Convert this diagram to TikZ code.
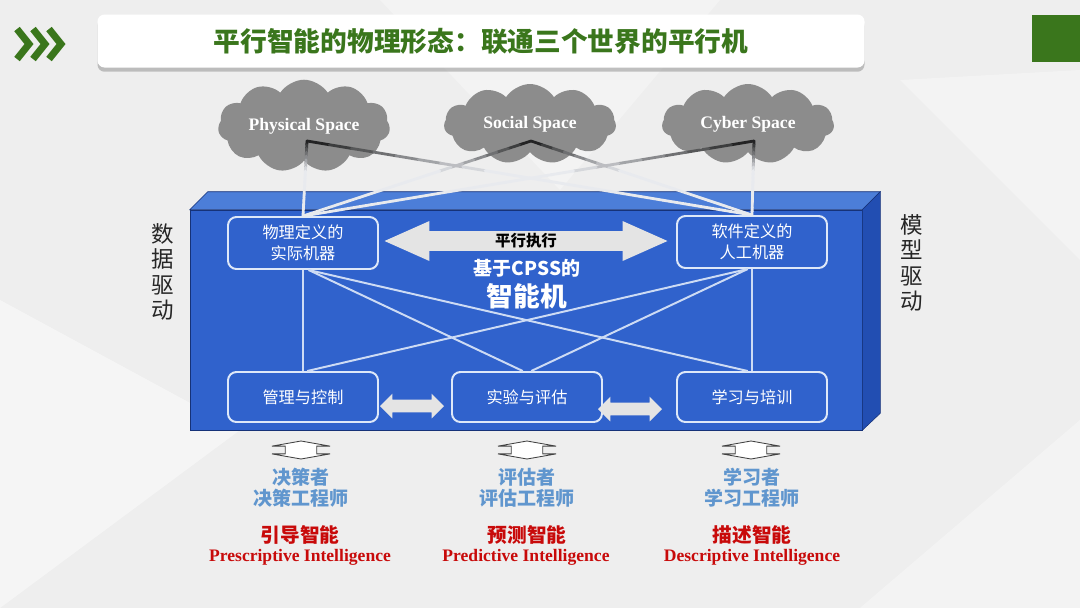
\documentclass[tikz,border=0pt]{standalone}
\usepackage{fontspec}
\setmainfont{Liberation Serif}
\newfontfamily\cjk{Noto Sans CJK SC}
\usepackage{tikz}
\usetikzlibrary{positioning,calc,shapes.symbols,shapes.arrows,shadows}

\definecolor{bggray}{RGB}{238,238,238}
\definecolor{titlegreen}{RGB}{58,118,28}
\definecolor{blockfront}{RGB}{48,98,204}
\definecolor{blocktop}{RGB}{76,126,216}
\definecolor{blockside}{RGB}{34,78,178}
\definecolor{blockedge}{RGB}{22,50,120}
\definecolor{panelline}{RGB}{222,232,248}
\definecolor{cloudgray}{RGB}{140,140,140}
\definecolor{arrowgray}{RGB}{228,228,228}
\definecolor{rolebl}{RGB}{96,150,206}
\definecolor{intred}{RGB}{200,10,10}
\definecolor{linelight}{RGB}{232,234,238}

\newcommand\pxu{0.025cm}
% cloud-to-panel line, dark near the cloud and fading out
\newcommand\fadeline[2]{%
  \foreach \k in {0,...,19}{%
    \pgfmathsetmacro\ta{\k/20}%
    \pgfmathsetmacro\tb{(\k+1)/20}%
    \pgfmathtruncatemacro\dk{max(0,85-\k*11)}%
    \draw[line width=2pt, line cap=round, black!\dk!linelight]
      ($(#1)!\ta!(#2)$) -- ($(#1)!\tb!(#2)$);
  }}

\begin{document}
\begin{tikzpicture}[
  x=0.025cm, y=-0.025cm,
  banner/.style={fill=white, rounded corners=5pt, minimum width=767*\pxu, minimum height=53*\pxu,
    drop shadow={shadow xshift=0pt, shadow yshift=-3pt, fill=black!45, opacity=0.5},
    text=titlegreen, font=\cjk\bfseries\fontsize{19}{22}\selectfont},
  spacecloud/.style={cloud, cloud puffs=11, cloud puff arc=115, aspect=2.2, fill=cloudgray,
    minimum width=172*\pxu, minimum height=80*\pxu, inner sep=0pt,
    text=white, font=\bfseries\fontsize{12.5}{14}\selectfont},
  panel/.style={draw=panelline, line width=1.4pt, rounded corners=6pt, fill=blockfront,
    minimum width=150*\pxu, minimum height=52*\pxu, align=center, text=white,
    font=\cjk\fontsize{11.5}{15}\selectfont},
  innerline/.style={draw=panelline!90!blockfront, line width=1.4pt},
  bigarrow/.style={double arrow, fill=arrowgray, minimum height=283*\pxu, minimum width=40*\pxu,
    double arrow head extend=10*\pxu, double arrow tip angle=48, inner xsep=0pt, inner ysep=2*\pxu,
    font=\cjk\bfseries\fontsize{11}{13}\selectfont},
  smallarrow/.style={double arrow, fill=arrowgray, minimum height=64*\pxu, minimum width=24*\pxu,
    double arrow head extend=6*\pxu, double arrow tip angle=90, inner xsep=0pt, inner ysep=6*\pxu},
  hollowarrow/.style={double arrow, rotate=90, draw=black!75, fill=white, line width=0.6pt,
    minimum height=18*\pxu, minimum width=58*\pxu, double arrow head extend=13*\pxu,
    double arrow tip angle=160, inner xsep=0pt, inner ysep=15*\pxu},
  role/.style={align=center, text=rolebl, font=\cjk\bfseries\fontsize{13.5}{15}\selectfont},
  intelzh/.style={text=intred, font=\cjk\bfseries\fontsize{14}{15}\selectfont},
  intelen/.style={text=intred, font=\bfseries\fontsize{12.5}{13}\selectfont},
  sidetext/.style={align=center, text=black!85, font=\cjk\fontsize{16}{18}\selectfont},
]

% --- page and background ---
\fill[bggray] (0,0) rectangle (1080,608);
\useasboundingbox (0,0) rectangle (1080,608);
\fill[white, opacity=0.45] (0,608) -- (240,430) -- (0,300) -- cycle;
\fill[white, opacity=0.35] (860,608) -- (1080,420) -- (1080,608) -- cycle;
\fill[white, opacity=0.3] (380,0) -- (560,190) -- (720,0) -- cycle;
\fill[white, opacity=0.3] (900,80) -- (1080,260) -- (1080,70) -- cycle;

% --- header ---
\foreach \i in {0,1,2}
  \draw[titlegreen, line width=5pt, line join=miter]
    (17+16*\i,29) -- (29+16*\i,44) -- (17+16*\i,59);
\node[banner] (title) at (481,41) {平行智能的物理形态：联通三个世界的平行机};
\node[fill=titlegreen, minimum width=48*\pxu, minimum height=47*\pxu, inner sep=0pt,
  anchor=north west] (tab) at (1032,15) {};

% --- the machine block ---
\node[fill=blockfront, draw=blockedge, minimum width=672*\pxu, minimum height=220*\pxu,
  inner sep=0pt] (machine) at (526,320) {};
\fill[blocktop, draw=blockedge] (machine.north west) -- ++(18,-18)
  -- ([shift={(18,-18)}]machine.north east) -- (machine.north east) -- cycle;
\fill[blockside, draw=blockedge] (machine.north east) -- ++(18,-18)
  -- ([shift={(18,-17)}]machine.south east) -- (machine.south east) -- cycle;

% --- three spaces ---
\node[spacecloud] (phys) at (304,126) {Physical Space};
\node[spacecloud] (social) at (530,124) {Social Space};
\node[spacecloud] (cyber) at (748,124) {Cyber Space};
\coordinate (phys-pt) at (307,141);
\coordinate (social-pt) at (531,141);
\coordinate (cyber-pt) at (754,141);

% --- panels ---
\node[panel] (lt) at (303,243) {物理定义的\\实际机器};
\node[panel] (rt) at (752,242) {软件定义的\\人工机器};
\node[panel, minimum height=50*\pxu] (mgmt) at (303,397) {管理与控制};
\node[panel, minimum height=50*\pxu] (exp) at (527,397) {实验与评估};
\node[panel, minimum height=50*\pxu] (learn) at (752,397) {学习与培训};

% links inside the block
\draw[innerline] (lt.south) -- (mgmt.north);
\draw[innerline] (rt.south) -- (learn.north);
\draw[innerline] ([xshift=4pt]lt.south) -- ([xshift=-3pt]exp.north);
\draw[innerline] ([xshift=4pt]lt.south) -- ([xshift=-3pt]learn.north);
\draw[innerline] ([xshift=-3pt]rt.south) -- ([xshift=3pt]exp.north);
\draw[innerline] ([xshift=-3pt]rt.south) -- ([xshift=3pt]mgmt.north);

% links from the spaces
\fadeline{phys-pt}{lt.north}
\fadeline{phys-pt}{rt.north}
\fadeline{social-pt}{lt.north}
\fadeline{social-pt}{rt.north}
\fadeline{cyber-pt}{lt.north}
\fadeline{cyber-pt}{rt.north}

% --- arrows and centre text ---
\node[bigarrow] (exec) at (526,241) {平行执行};
\node[text=white, font=\cjk\bfseries\fontsize{13.5}{15}\selectfont] (cpss) at (527,268) {基于CPSS的};
\node[text=white, font=\cjk\bfseries\fontsize{19}{22}\selectfont] (brain) at (527,296) {智能机};
\node[smallarrow] (a1) at (412,406) {};
\node[smallarrow] (a2) at (630,409) {};

% --- side labels ---
\node[sidetext] (datadrive) at (163,272) {数\\据\\驱\\动};
\node[sidetext] (modeldrive) at (912,263) {模\\型\\驱\\动};

% --- roles and intelligences ---
\node[hollowarrow] (h1) at (301,450) {};
\node[hollowarrow] (h2) at (527,450) {};
\node[hollowarrow] (h3) at (751,450) {};
\node[role] (r1) at (301,488) {决策者\\决策工程师};
\node[role] (r2) at (527,488) {评估者\\评估工程师};
\node[role] (r3) at (752,488) {学习者\\学习工程师};
\node[intelzh] (p1) at (300,535) {引导智能};
\node[intelzh] (p2) at (527,535) {预测智能};
\node[intelzh] (p3) at (752,535) {描述智能};
\node[intelen] (e1) at (300,557) {Prescriptive Intelligence};
\node[intelen] (e2) at (526,557) {Predictive Intelligence};
\node[intelen] (e3) at (752,557) {Descriptive Intelligence};
\end{tikzpicture}
\end{document}
